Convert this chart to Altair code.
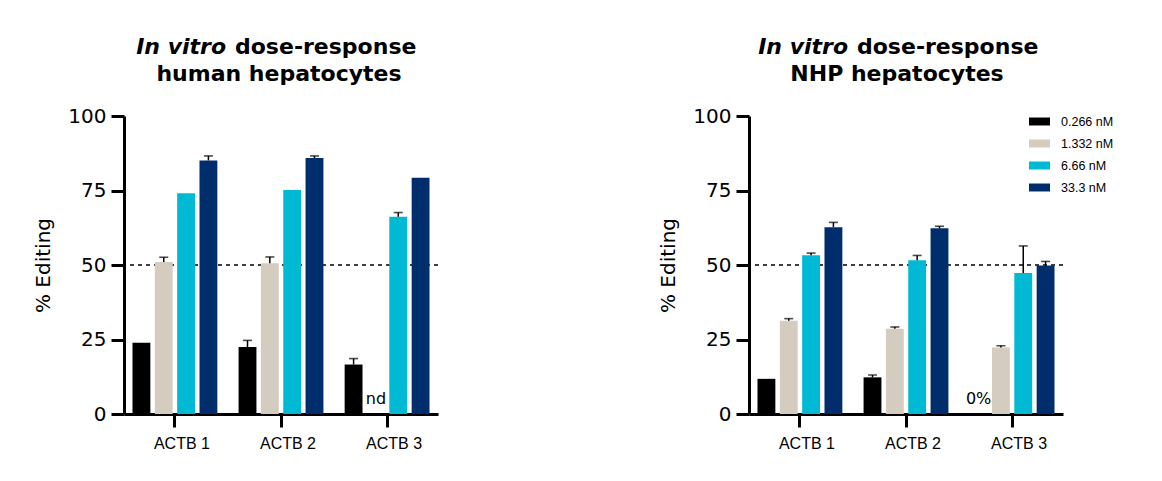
import altair as alt
import pandas as pd

genes = ["ACTB 1", "ACTB 2", "ACTB 3"]
doses = ["0.266 nM", "1.332 nM", "6.66 nM", "33.3 nM"]
dose_colors = ["#000000", "#D3CCBF", "#00BAD5", "#002E6D"]
y_ticks = [0, 25, 50, 75, 100]
threshold = [50]

# human hepatocytes: mean % editing per gene (one list per dose) and upper error
human_0266 = [23.9, 22.5, 16.6]
human_1332 = [51.0, 50.6, None]
human_666 = [74.1, 75.2, 66.2]
human_333 = [85.1, 85.9, 79.3]
human_err_0266 = [0.0, 2.2, 2.0]
human_err_1332 = [1.6, 2.1, 0.0]
human_err_666 = [0.0, 0.0, 1.4]
human_err_333 = [1.5, 0.7, 0.0]
human_note_gene = ["ACTB 3"]
human_note_dose = ["1.332 nM"]
human_note_text = ["nd"]

# NHP hepatocytes
nhp_0266 = [11.8, 12.3, 0.0]
nhp_1332 = [31.3, 28.6, 22.3]
nhp_666 = [53.3, 51.6, 47.3]
nhp_333 = [62.7, 62.3, 49.8]
nhp_err_0266 = [0.0, 0.8, 0.0]
nhp_err_1332 = [0.7, 0.6, 0.6]
nhp_err_666 = [0.7, 1.6, 9.1]
nhp_err_333 = [1.6, 0.7, 1.4]
nhp_note_gene = ["ACTB 3"]
nhp_note_dose = ["0.266 nM"]
nhp_note_text = ["0%"]

title_italic = ["In vitro"]
title_rest = ["dose-response"]
human_title2 = ["human hepatocytes"]
nhp_title2 = ["NHP hepatocytes"]


def build(vals, errs):
    rows = []
    for d, v_list, e_list in zip(doses, vals, errs):
        for g, v, e in zip(genes, v_list, e_list):
            rows.append({"gene": g, "dose": d, "value": v, "err": e,
                         "upper": (v or 0) + e})
    return pd.DataFrame(rows)


human_df = build([human_0266, human_1332, human_666, human_333],
                 [human_err_0266, human_err_1332, human_err_666, human_err_333])
nhp_df = build([nhp_0266, nhp_1332, nhp_666, nhp_333],
               [nhp_err_0266, nhp_err_1332, nhp_err_666, nhp_err_333])


def panel(df, ngene, ndose, ntext, title2, split, t2x, ty1, ty2, legend):
    x = alt.X("gene:N", sort=genes,
              scale=alt.Scale(paddingInner=0.2, paddingOuter=0.08),
              axis=alt.Axis(title=None, labelAngle=0, labelFont="Liberation Sans",
                            labelFontSize=16, labelColor="black", labelPadding=8,
                            labelOffset=7, tickSize=13, tickWidth=3, tickColor="black",
                            domainWidth=3, domainColor="black"))
    xo = alt.XOffset("dose:N", sort=doses,
                     scale=alt.Scale(paddingInner=0.2, paddingOuter=0))
    yax = alt.Axis(values=y_ticks, title="% Editing", titleFont="DejaVu Sans",
                   titleFontSize=20, titleFontWeight="normal", titleColor="black",
                   titlePadding=14, labelFont="DejaVu Sans", labelFontSize=20,
                   labelColor="black", labelPadding=5, tickSize=13, tickWidth=3,
                   tickColor="black", domainWidth=3, domainColor="black", grid=False)
    yscale = alt.Scale(domain=[0, 100], nice=False)

    if legend:
        leg = alt.Legend(title=None, orient="none", legendX=280, legendY=-5,
                         symbolType="M-1,-0.38H1V0.38H-1Z", symbolSize=441,
                         symbolStrokeWidth=0, labelFont="Liberation Sans",
                         labelFontSize=12.5, labelColor="black", labelOffset=11,
                         rowPadding=5, padding=0)
    else:
        leg = None
    color = alt.Color("dose:N", sort=doses,
                      scale=alt.Scale(domain=doses, range=dose_colors), legend=leg)

    rule = alt.Chart(pd.DataFrame({"value": threshold})).mark_rule(
        strokeDash=[4, 4], strokeWidth=1.5, color="black"
    ).encode(y=alt.Y("value:Q", scale=yscale, axis=yax))

    bars = alt.Chart(df).mark_bar().encode(
        x=x, xOffset=xo, y=alt.Y("value:Q", scale=yscale, axis=yax), color=color)

    errdf = df[df["err"] > 0]
    err_line = alt.Chart(errdf).mark_rule(color="black", strokeWidth=1.5).encode(
        x=x, xOffset=xo, y=alt.Y("value:Q", scale=yscale, axis=yax), y2="upper:Q")
    err_cap = alt.Chart(errdf).mark_tick(color="black", size=9, thickness=1.6,
                                         orient="horizontal").encode(
        x=x, xOffset=xo, y=alt.Y("upper:Q", scale=yscale, axis=yax))

    notes = pd.DataFrame({"gene": ngene, "dose": ndose, "note": ntext, "value": [0]})
    note = alt.Chart(notes).mark_text(font="DejaVu Sans", fontSize=16, color="black",
                                      baseline="alphabetic", dy=-10).encode(
        x=x, xOffset=xo, y=alt.Y("value:Q", scale=yscale, axis=yax), text="note:N")

    t1a = alt.Chart(pd.DataFrame({"t": title_italic})).mark_text(
        font="DejaVu Sans", fontSize=22, fontWeight="bold", fontStyle="italic",
        align="right", baseline="alphabetic", color="black"
    ).encode(text="t:N", x=alt.value(split), y=alt.value(ty1))
    t1b = alt.Chart(pd.DataFrame({"t": title_rest})).mark_text(
        font="DejaVu Sans", fontSize=22, fontWeight="bold",
        align="left", baseline="alphabetic", color="black"
    ).encode(text="t:N", x=alt.value(split + 9), y=alt.value(ty1))
    t2 = alt.Chart(pd.DataFrame({"t": title2})).mark_text(
        font="DejaVu Sans", fontSize=22, fontWeight="bold",
        align="center", baseline="alphabetic", color="black"
    ).encode(text="t:N", x=alt.value(t2x), y=alt.value(ty2))

    return alt.layer(rule, bars, err_line, err_cap, note, t1a, t1b, t2).properties(
        width=314, height=298)


left = panel(human_df, human_note_gene, human_note_dose, human_note_text,
             human_title2, 102, 155, -62, -35, False)
right = panel(nhp_df, nhp_note_gene, nhp_note_dose, nhp_note_text,
              nhp_title2, 99, 148, -62, -35, True)

chart = alt.hconcat(left, right, spacing=219).resolve_scale(
    color="independent").configure_view(stroke=None).properties(
    padding={"left": 25, "top": 28, "right": 5, "bottom": 5})

chart.save("out.html", embed_options={"renderer": "svg", "actions": False})
